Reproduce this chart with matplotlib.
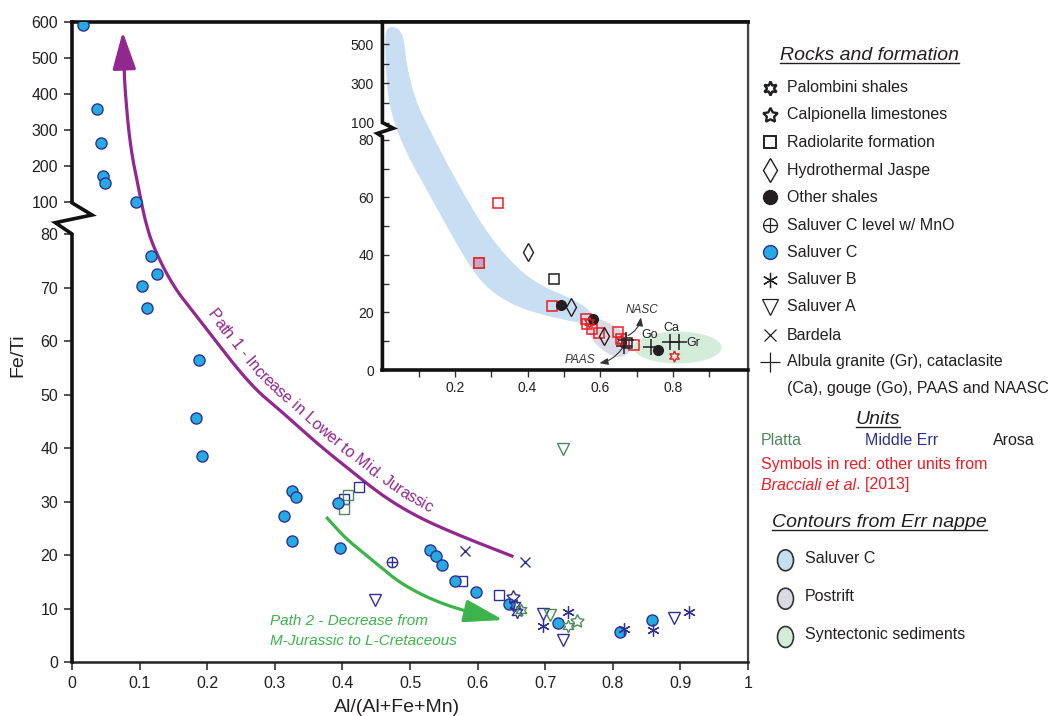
import numpy as np
import matplotlib
matplotlib.use('Agg')
import matplotlib.pyplot as plt
import matplotlib.transforms as mtransforms
from matplotlib.patches import Ellipse, Polygon
from matplotlib.font_manager import FontProperties, findfont, get_font

plt.rcParams['font.family'] = ['Liberation Sans', 'DejaVu Sans']

# ---------------- colours ----------------
TXT = '#231f20'
NAVY = '#2e3192'
PLATTA = '#4e8a5e'
RED = '#ed1c24'
BLUE_FILL = '#27aae1'
PURPLE = '#92278f'
GREEN_ARROW = '#3cb44b'
SAL_C_REG = '#c8def3'
POST_REG = '#dadae5'
SYN_REG = '#d4ecda'
UNIT_COLORS = {'M': NAVY, 'P': PLATTA, 'A': TXT, 'R': RED}

# ---------------- main panel data ----------------
x_ticks = [0, 0.1, 0.2, 0.3, 0.4, 0.5, 0.6, 0.7, 0.8, 0.9, 1.0]
x_ticklabels = ['0', '0.1', '0.2', '0.3', '0.4', '0.5', '0.6', '0.7', '0.8', '0.9', '1']
y_ticks = [0, 10, 20, 30, 40, 50, 60, 70, 80, 100, 200, 300, 400, 500, 600]

salC_x = [0.016, 0.037, 0.043, 0.046, 0.049, 0.095, 0.104, 0.111, 0.117, 0.126,
          0.183, 0.188, 0.192, 0.314, 0.325, 0.326, 0.332, 0.394, 0.396, 0.530,
          0.538, 0.548, 0.566, 0.598, 0.647, 0.719, 0.810, 0.858]
salC_y = [591, 359, 264, 172, 154, 101, 70.2, 66.1, 75.8, 72.5,
          45.6, 56.4, 38.5, 27.2, 22.6, 32.0, 30.9, 29.8, 21.3, 20.9,
          19.8, 18.1, 15.1, 13.0, 10.9, 7.2, 5.6, 7.9]

rad_x = [0.425, 0.403, 0.408, 0.402, 0.577, 0.632]
rad_y = [32.8, 30.5, 31.2, 28.6, 15.1, 12.5]
rad_unit = ['M', 'M', 'P', 'P', 'M', 'M']

pal_x = [0.655, 0.658, 0.664, 0.734]
pal_y = [10.6, 9.4, 9.7, 6.7]
pal_unit = ['M', 'M', 'P', 'P']

cal_x = [0.653, 0.747]
cal_y = [12.1, 7.7]
cal_unit = ['M', 'P']

salA_x = [0.448, 0.697, 0.707, 0.726, 0.891, 0.726]
salA_y = [11.6, 9.0, 8.8, 4.1, 8.2, 39.8]
salA_unit = ['M', 'M', 'P', 'M', 'M', 'P']

salB_x = [0.697, 0.734, 0.817, 0.860, 0.912]
salB_y = [6.7, 9.3, 6.2, 6.0, 9.4]
salB_unit = ['M', 'M', 'M', 'M', 'M']

bard_x = [0.581, 0.670]
bard_y = [20.8, 18.6]
bard_unit = ['M', 'M']

mno_x = [0.473]
mno_y = [18.6]
mno_unit = ['M']

# trend paths (Fe/Ti vs Al ratio)
path1_x = [0.653, 0.608, 0.559, 0.510, 0.461, 0.411, 0.362, 0.313, 0.263, 0.189,
           0.150, 0.120, 0.108, 0.101, 0.086, 0.078, 0.077]
path1_y = [19.7, 21.9, 24.4, 27.2, 30.9, 35.9, 40.9, 46.5, 51.8, 63.9,
           70.1, 77.6, 88.7, 114.7, 253.6, 420, 485]
path1_tip = (0.075, 573)
path1_label = 'Path 1 - Increase in Lower to Mid. Jurassic'

path2_x = [0.376, 0.404, 0.429, 0.456, 0.482, 0.515, 0.552, 0.589]
path2_y = [27.1, 23.2, 20.6, 17.8, 15.1, 12.7, 10.7, 9.3]
path2_tip = (0.638, 7.85)
path2_label = ['Path 2 - Decrease from', 'M-Jurassic to L-Cretaceous']

# ---------------- inset data ----------------
ins_xticks = [0.2, 0.4, 0.6, 0.8]
ins_xminor = [0.1, 0.3, 0.5, 0.7, 0.9]
ins_yticks = [0, 20, 40, 60, 80, 100, 300, 500]
ins_yminor = [10, 30, 50, 70, 200, 400]

ins_rad_x = [0.318, 0.267, 0.468, 0.561, 0.563, 0.578, 0.596, 0.648, 0.656, 0.693, 0.473, 0.673]
ins_rad_y = [58.0, 37.1, 22.3, 17.6, 16.0, 14.2, 12.8, 13.3, 10.7, 8.7, 31.5, 9.5]
ins_rad_unit = ['R'] * 10 + ['A', 'A']

ins_jas_x = [0.400, 0.520, 0.611]
ins_jas_y = [41.2, 21.8, 11.8]

ins_sh_x = [0.491, 0.579, 0.758]
ins_sh_y = [22.6, 17.7, 7.0]

ins_pal_x = [0.570, 0.658, 0.804]
ins_pal_y = [16.8, 10.5, 4.9]

ref_names = ['NASC', 'PAAS', 'Go', 'Ca', 'Gr']
ref_x = [0.672, 0.665, 0.739, 0.792, 0.817]
ref_y = [10.5, 8.5, 7.9, 9.9, 9.9]

# contour outlines (Al ratio, Fe/Ti)
salC_reg_x = [0.007, 0.012, 0.021, 0.039, 0.076, 0.122, 0.168, 0.214, 0.260, 0.306,
              0.370, 0.443, 0.526, 0.572, 0.586, 0.563, 0.508, 0.453, 0.398, 0.333,
              0.278, 0.223, 0.168, 0.131, 0.094, 0.067, 0.060, 0.048, 0.030, 0.012]
salC_reg_y = [520, 284, 182, 91.6, 73.0, 62.6, 52.2, 41.7, 32.5, 26.7,
              22.0, 19.1, 16.8, 15.7, 18.0, 21.8, 25.5, 28.4, 32.5, 40.6,
              49.8, 61.5, 74.2, 91.6, 199, 386, 522, 573, 590, 582]
post_reg_x = [0.558, 0.581, 0.618, 0.664, 0.684, 0.682, 0.664, 0.636, 0.599, 0.572]
post_reg_y = [16.8, 18.6, 16.8, 13.3, 9.8, 6.4, 4.4, 4.6, 7.5, 11.6]
syn_center = (0.813, 7.8)
syn_size = (0.243, 11.1)


# ---------------- helpers ----------------
def make_break(lo, hi, gap, k):
    def fwd(y):
        y = np.asarray(y, dtype=float)
        return np.where(y <= lo, y, np.where(y >= hi, lo + gap + (y - hi) * k,
                                             lo + (y - lo) / (hi - lo) * gap))

    def inv(u):
        u = np.asarray(u, dtype=float)
        return np.where(u <= lo, u, np.where(u >= lo + gap, hi + (u - lo - gap) / k,
                                             lo + (u - lo) / gap * (hi - lo)))
    return fwd, inv


def chaikin(x, y, fwd, inv, n=4, closed=False):
    pts = np.column_stack([np.asarray(x, float), fwd(np.asarray(y, float))])
    for _ in range(n):
        if closed:
            p, q = pts, np.roll(pts, -1, axis=0)
        else:
            p, q = pts[:-1], pts[1:]
        new = np.empty((2 * len(p), 2))
        new[0::2] = 0.75 * p + 0.25 * q
        new[1::2] = 0.25 * p + 0.75 * q
        pts = new if closed else np.vstack([pts[:1], new, pts[-1:]])
    return pts[:, 0], inv(pts[:, 1])


def scatter_units(axis, xs, ys, units, marker, ms, filled=False, mew=1.0, z=4):
    for u in dict.fromkeys(units):
        idx = [i for i, uu in enumerate(units) if uu == u]
        c = UNIT_COLORS[u]
        axis.plot([xs[i] for i in idx], [ys[i] for i in idx], ls='none', marker=marker,
                  ms=ms, mfc=(c if filled else 'none'), mec=c, mew=mew, color=c, zorder=z)


W, H = 1050, 716
fig = plt.figure(figsize=(W / 100, H / 100), dpi=100)

main_fwd, main_inv = make_break(80, 100, 5.98, 0.0673)
ins_fwd, ins_inv = make_break(80, 100, 6.02, 0.0682)

# ---------------- main axes ----------------
ax = fig.add_axes([72 / W, 1 - 662 / H, 676 / W, 640 / H])
ax.set_yscale('function', functions=(main_fwd, main_inv))
ax.set_xlim(0, 1)
ax.set_ylim(0, 600)
ax.set_xticks(x_ticks)
ax.set_xticklabels(x_ticklabels)
ax.set_yticks(y_ticks)
ax.set_yticklabels([str(v) for v in y_ticks])
ax.tick_params(axis='both', direction='out', length=6, width=1.2, color='#333333',
               labelsize=11.5, labelcolor=TXT, pad=4)
ax.spines['left'].set_visible(False)
ax.spines['top'].set_color('#111111')
ax.spines['top'].set_linewidth(2.6)
ax.spines['right'].set_color('#444444')
ax.spines['right'].set_linewidth(1.6)
ax.spines['bottom'].set_color('#222222')
ax.spines['bottom'].set_linewidth(1.8)
bt = mtransforms.blended_transform_factory(ax.transAxes, ax.transData)
ax.plot([0, 0, -0.0247, 0.0296, 0, 0], [0, 80, 87.1, 91.9, 99.5, 600], transform=bt,
        color='#111111', lw=2.6, clip_on=False, zorder=6, solid_joinstyle='miter')

# paths
p1x, p1y = chaikin(path1_x, path1_y, main_fwd, main_inv, n=4)
ax.plot(p1x, p1y, color=PURPLE, lw=2.3, solid_capstyle='butt', zorder=3)
ax.annotate('', xy=path1_tip, xytext=(path1_x[-1], path1_y[-1]),
            arrowprops=dict(arrowstyle='-|>,head_length=2.3,head_width=0.72', mutation_scale=10,
                            color=PURPLE, lw=2.3, shrinkA=0, shrinkB=0), zorder=3)
p2x, p2y = chaikin(path2_x, path2_y, main_fwd, main_inv, n=4)
ax.plot(p2x, p2y, color=GREEN_ARROW, lw=2.3, solid_capstyle='butt', zorder=3)
ax.annotate('', xy=path2_tip, xytext=(path2_x[-1], path2_y[-1]),
            arrowprops=dict(arrowstyle='-|>,head_length=2.4,head_width=0.7', mutation_scale=10,
                            color=GREEN_ARROW, lw=2.3, shrinkA=0, shrinkB=0), zorder=3)


def text_on_curve(axis, xd, yd, text, start_xy, offset_px, fontsize, color, style='normal'):
    disp = axis.transData.transform(np.column_stack([xd, yd]))
    seg = np.diff(disp, axis=0)
    seglen = np.hypot(seg[:, 0], seg[:, 1])
    keep = seglen > 1e-9
    seg, seglen = seg[keep], seglen[keep]
    pts0 = np.vstack([disp[:1], disp[:1] + np.cumsum(seg, axis=0)])
    cum = np.concatenate([[0], np.cumsum(seglen)])
    sd = axis.transData.transform([start_xy])[0]
    i0 = int(np.argmin(np.hypot(pts0[:, 0] - sd[0], pts0[:, 1] - sd[1])))
    s = cum[i0]
    font = get_font(findfont(FontProperties(family='Liberation Sans', style=style)))
    font.set_size(fontsize, fig.dpi)
    invt = axis.transData.inverted()
    for ch in text:
        g = font.load_char(ord(ch))
        adv = g.linearHoriAdvance / 65536
        sc = s + adv / 2
        j = int(np.clip(np.searchsorted(cum, sc) - 1, 0, len(seg) - 1))
        j0, j1 = max(j - 2, 0), min(j + 3, len(seg))
        tan = seg[j0:j1].sum(axis=0)
        tan = tan / np.hypot(*tan)
        t = (sc - cum[j]) / seglen[j]
        p = pts0[j] + t * seg[j]
        nrm = np.array([-tan[1], tan[0]])
        q = p + nrm * offset_px
        ang = np.degrees(np.arctan2(tan[1], tan[0]))
        xq, yq = invt.transform(q)
        axis.text(xq, yq, ch, rotation=ang, rotation_mode='anchor', ha='center',
                  va='baseline', fontsize=fontsize, color=color, style=style, zorder=3)
        s += adv


text_on_curve(ax, p1x[::-1], p1y[::-1], path1_label, (0.189, 63.9), 9, 11.6, PURPLE)
ax.text(0.293, 7.7, path2_label[0], fontsize=11, style='italic', color=GREEN_ARROW,
        ha='left', va='center', zorder=3)
ax.text(0.293, 3.9, path2_label[1], fontsize=11, style='italic', color=GREEN_ARROW,
        ha='left', va='center', zorder=3)

# points
scatter_units(ax, rad_x, rad_y, rad_unit, 's', 6.5)
scatter_units(ax, salA_x, salA_y, salA_unit, 'v', 9)
ax.plot(salC_x, salC_y, ls='none', marker='o', ms=8, mfc=BLUE_FILL, mec=NAVY, mew=1.0, zorder=4)
scatter_units(ax, pal_x, pal_y, pal_unit, (6, 1, 0), 9, z=5)
scatter_units(ax, cal_x, cal_y, cal_unit, (5, 1, 0), 10, z=5)
scatter_units(ax, salB_x, salB_y, salB_unit, (6, 2, 0), 9, mew=0.9, z=5)
scatter_units(ax, bard_x, bard_y, bard_unit, 'x', 7, z=5)
scatter_units(ax, mno_x, mno_y, mno_unit, 'o', 7.5, z=5)
scatter_units(ax, mno_x, mno_y, mno_unit, '+', 7.5, z=5)

# ---------------- inset ----------------
ins = fig.add_axes([382.4 / W, 1 - 370 / H, (748 - 382.4) / W, 348 / H])
ins.set_yscale('function', functions=(ins_fwd, ins_inv))
ins.set_xlim(0, 1.007)
ins.set_ylim(0, 613)
ins.set_facecolor('white')
ins.set_xticks(ins_xticks)
ins.set_xticklabels([f'{v:.1f}' for v in ins_xticks])
ins.set_xticks(ins_xminor, minor=True)
ins.set_yticks(ins_yticks)
ins.set_yticklabels([str(v) for v in ins_yticks])
ins.set_yticks(ins_yminor, minor=True)
ins.yaxis.set_minor_formatter(plt.NullFormatter())
ins.xaxis.set_minor_formatter(plt.NullFormatter())
ins.tick_params(axis='y', which='both', direction='in', length=5, width=1.0, color='#333333',
                labelsize=10, labelcolor=TXT, pad=6)
ins.tick_params(axis='x', which='both', direction='out', length=5, width=1.0, color='#333333',
                labelsize=10, labelcolor=TXT, pad=3)
ins.spines['left'].set_visible(False)
ins.spines['bottom'].set_color('#111111')
ins.spines['bottom'].set_linewidth(2.6)
ins.spines['top'].set_color('#111111')
ins.spines['top'].set_linewidth(2.6)
ins.spines['right'].set_color('#444444')
ins.spines['right'].set_linewidth(1.6)
bti = mtransforms.blended_transform_factory(ins.transAxes, ins.transData)
ins.plot([0, 0, -0.014, 0.030, 0, 0], [0, 83.8, 87.5, 93.5, 100, 613], transform=bti,
         color='#111111', lw=2.6, clip_on=False, zorder=6, solid_joinstyle='miter')

bx, by = chaikin(salC_reg_x, salC_reg_y, ins_fwd, ins_inv, n=4, closed=True)
ins.add_patch(Polygon(np.column_stack([bx, by]), closed=True, facecolor=SAL_C_REG,
                      edgecolor='none', zorder=1))
gx, gy = chaikin(post_reg_x, post_reg_y, ins_fwd, ins_inv, n=4, closed=True)
ins.add_patch(Polygon(np.column_stack([gx, gy]), closed=True, facecolor=POST_REG,
                      edgecolor='none', zorder=1.1))
ins.add_patch(Ellipse(syn_center, syn_size[0], syn_size[1], facecolor=SYN_REG,
                      edgecolor='none', zorder=1))

scatter_units(ins, ins_rad_x, ins_rad_y, ins_rad_unit, 's', 6.5, mew=1.1)
# the one square overprinted on a second symbol
ins.plot(ins_rad_x[1:2], ins_rad_y[1:2], ls='none', marker='s', ms=6.5, mfc='#c4aac9',
         mec=RED, mew=1.1, zorder=4)
ins.plot(ins_jas_x, ins_jas_y, ls='none', marker='d', ms=9, mfc='none', mec=TXT, mew=1.0, zorder=4)
ins.plot(ins_sh_x, ins_sh_y, ls='none', marker='o', ms=7, mfc=TXT, mec=TXT, zorder=4)
ins.plot(ins_pal_x, ins_pal_y, ls='none', marker=(6, 1, 0), ms=8, mfc='none', mec=RED, mew=1.0, zorder=5)
ins.plot(ref_x, ref_y, ls='none', marker='+', ms=11, mew=1.1, color=TXT, zorder=5)

ins.text(0.735, 12.2, 'Go', fontsize=9, color=TXT, ha='center', va='center', zorder=6)
ins.text(0.797, 14.6, 'Ca', fontsize=9, color=TXT, ha='center', va='center', zorder=6)
ins.text(0.857, 9.5, 'Gr', fontsize=9, color=TXT, ha='center', va='center', zorder=6)
ins.text(0.716, 20.9, 'NASC', fontsize=8.5, style='italic', color='#333333', ha='center', va='center')
ins.text(0.544, 3.5, 'PAAS', fontsize=8.5, style='italic', color='#333333', ha='center', va='center')
ins.annotate('', xy=(0.712, 18.3), xytext=(0.677, 12.0),
             arrowprops=dict(arrowstyle='-|>,head_length=0.5,head_width=0.2', mutation_scale=10,
                             lw=0.8, color='#333333', connectionstyle='arc3,rad=0.25',
                             shrinkA=0, shrinkB=0), zorder=6)
ins.annotate('', xy=(0.598, 2.4), xytext=(0.659, 7.3),
             arrowprops=dict(arrowstyle='-|>,head_length=0.5,head_width=0.2', mutation_scale=10,
                             lw=0.8, color='#333333', connectionstyle='arc3,rad=-0.2',
                             shrinkA=0, shrinkB=0), zorder=6)

# ---------------- overlay for labels & legend (pixel coords) ----------------
lay = fig.add_axes([0, 0, 1, 1], facecolor='none')
lay.set_xlim(0, W)
lay.set_ylim(H, 0)
lay.axis('off')

lay.text(397, 707, 'Al/(Al+Fe+Mn)', fontsize=14, color=TXT, ha='center', va='center')
lay.text(18, 355, 'Fe/Ti', fontsize=14, color=TXT, ha='center', va='center', rotation=90)

renderer = fig.canvas.get_renderer()
inv_lay = lay.transData.inverted()


def right_edge(t):
    bb = t.get_window_extent(renderer)
    return inv_lay.transform((bb.x1, bb.y0))[0], inv_lay.transform((bb.x0, bb.y0))[0]


def underlined(x, y, s, fs, ha='left'):
    t = lay.text(x, y, s, fontsize=fs, style='italic', color=TXT, ha=ha, va='baseline')
    x1, x0 = right_edge(t)
    lay.plot([x0, x1], [y + 2.5, y + 2.5], color=TXT, lw=1.0)


underlined(780, 60, 'Rocks and formation', 14)
legend_entries = ['Palombini shales', 'Calpionella limestones', 'Radiolarite formation',
                  'Hydrothermal Jaspe', 'Other shales', 'Saluver C level w/ MnO', 'Saluver C',
                  'Saluver B', 'Saluver A', 'Bardela',
                  'Albula granite (Gr), cataclasite\n(Ca), gouge (Go), PAAS and NAASC']
legend_y = [87.7, 115, 142.3, 170, 197.3, 225, 252.3, 280, 306.7, 335, 361.7]
legend_markers = [((6, 1, 0), 10, 'none', 1.8), ((5, 1, 0), 11, 'none', 1.7), ('s', 8, 'none', 1.4),
                  ('D', 9, 'none', 1.0), ('o', 10, TXT, 1.0), ('o', 10, 'none', 0.9),
                  ('o', 10, BLUE_FILL, 1.0), ((6, 2, 0), 11, 'none', 0.9), ('v', 11, 'none', 0.9),
                  ('x', 8, 'none', 0.9), ('+', 14, 'none', 0.9)]
for lab, yy, (mk, ms, fc, mw) in zip(legend_entries, legend_y, legend_markers):
    ec = NAVY if fc == BLUE_FILL else TXT
    mkw = dict(marker=mk, ms=ms, mfc=fc, mec=ec, mew=mw, color=TXT, ls='none')
    if mk == 'D':
        # taller-than-wide diamond like the reference glyph
        lay.plot([770], [yy], marker='d', ms=12, mfc='none', mec=TXT, mew=1.0, ls='none')
    else:
        lay.plot([770], [yy], **mkw)
    if lab == 'Saluver C level w/ MnO':
        lay.plot([770], [yy], marker='+', ms=ms, mew=0.9, color=TXT, ls='none')
    if '\n' in lab:
        l1, l2 = lab.split('\n')
        lay.text(787, yy, l1, fontsize=11.5, color=TXT, ha='left', va='center')
        lay.text(787, yy + 26.6, l2, fontsize=11.5, color=TXT, ha='left', va='center')
    else:
        lay.text(787, yy, lab, fontsize=11.5, color=TXT, ha='left', va='center')

underlined(878, 424, 'Units', 14, ha='center')
lay.text(761, 440.7, 'Platta', fontsize=11.5, color=PLATTA, ha='left', va='center')
lay.text(865, 440.7, 'Middle Err', fontsize=11.5, color=NAVY, ha='left', va='center')
lay.text(993, 440.7, 'Arosa', fontsize=11.5, color=TXT, ha='left', va='center')
lay.text(761, 464.3, 'Symbols in red: other units from', fontsize=11.5, color=RED,
         ha='left', va='center')
tb = lay.text(761, 485, 'Bracciali et al', fontsize=11.5, color=RED, style='italic',
              ha='left', va='center')
xe, _ = right_edge(tb)
lay.text(xe + 0.5, 485, '. [2013]', fontsize=11.5, color=RED, ha='left', va='center')

underlined(772, 527.3, 'Contours from Err nappe', 14)
contour_labels = ['Saluver C', 'Postrift', 'Syntectonic sediments']
contour_colors = [SAL_C_REG, POST_REG, SYN_REG]
contour_y = [558.3, 596.7, 635]
for lab, c, yy in zip(contour_labels, contour_colors, contour_y):
    lay.add_patch(Ellipse((785.5, yy + 2), 16, 21, facecolor=c, edgecolor='#333333', lw=1.2))
    lay.text(805, yy, lab, fontsize=11.5, color=TXT, ha='left', va='center')

fig.savefig('out.png', dpi=100)
